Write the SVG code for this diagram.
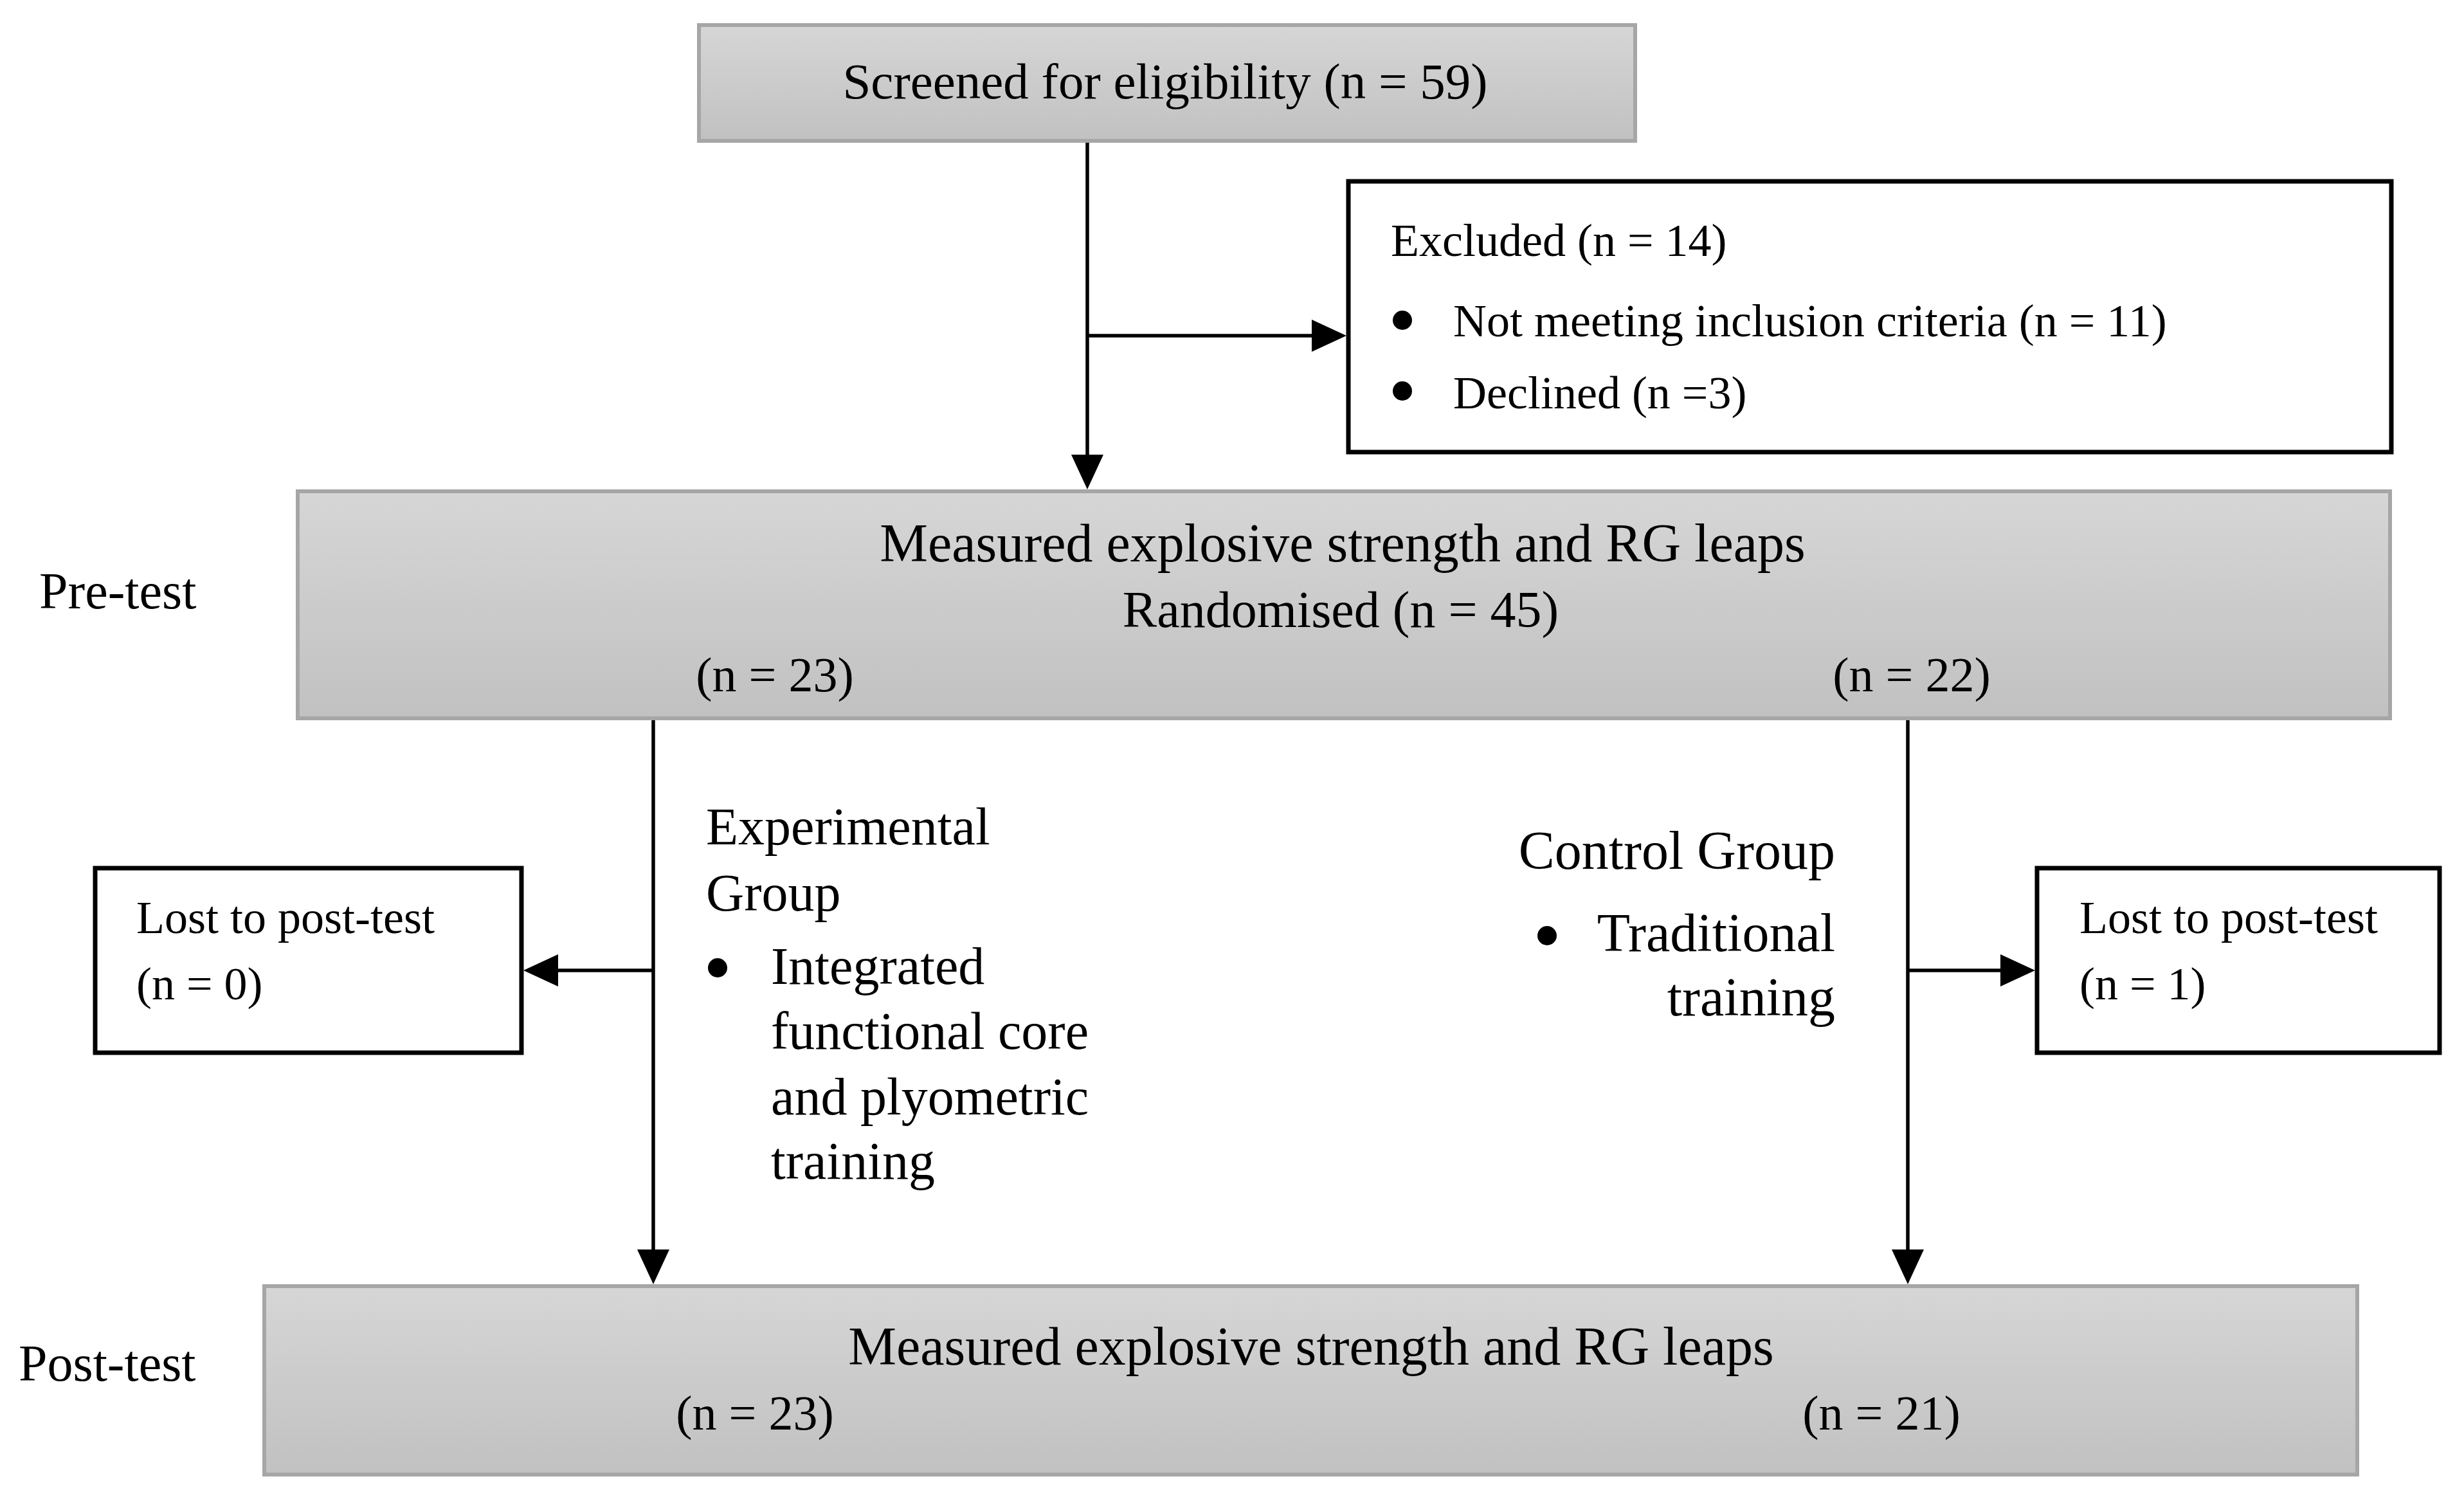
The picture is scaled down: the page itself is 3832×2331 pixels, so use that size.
<svg xmlns="http://www.w3.org/2000/svg" width="3832" height="2331" viewBox="0 0 3832 2331">
<style>
text{font-family:"Liberation Serif","Times New Roman",serif;fill:#000}
.big{font-size:80px}
.grp{font-size:82px}
.ctl{font-size:84px}
.num{font-size:76px}
.meas{font-size:84px}
.sm{font-size:72px}
.gray{fill:url(#g);stroke:#a6a6a6;stroke-width:6}
.white{fill:#fff;stroke:#000;stroke-width:7}
.conn{stroke:#000;stroke-width:5.5;fill:none}
</style>
<defs>
<linearGradient id="g" x1="0" y1="0" x2="0" y2="1">
<stop offset="0" stop-color="#d6d6d6"/>
<stop offset="1" stop-color="#c1c1c1"/>
</linearGradient>
<marker id="arr" markerUnits="userSpaceOnUse" markerWidth="54" markerHeight="50" refX="44" refY="25" orient="auto">
<path d="M0,0 L54,25 L0,50 z" fill="#000"/>
</marker>
</defs>
<rect width="3832" height="2331" fill="#fff"/>

<g id="connectors">
<line class="conn" x1="1691" y1="222" x2="1691" y2="751" marker-end="url(#arr)"/>
<line class="conn" x1="1691" y1="522" x2="2084" y2="522" marker-end="url(#arr)"/>
<line class="conn" x1="1016" y1="1120" x2="1016" y2="1987" marker-end="url(#arr)"/>
<line class="conn" x1="1016" y1="1509" x2="824" y2="1509" marker-end="url(#arr)"/>
<line class="conn" x1="2967" y1="1120" x2="2967" y2="1987" marker-end="url(#arr)"/>
<line class="conn" x1="2967" y1="1509" x2="3155" y2="1509" marker-end="url(#arr)"/>
</g>

<g id="screened">
<rect class="gray" x="1087" y="39" width="1456" height="180"/>
<text class="big" x="1812" y="153" text-anchor="middle" style="font-size:79px">Screened for eligibility (n = 59)</text>
</g>

<g id="excluded">
<rect class="white" x="2097" y="282" width="1622" height="421"/>
<text class="sm" x="2163" y="398">Excluded (n = 14)</text>
<circle cx="2181" cy="498" r="15"/>
<text class="sm" x="2260" y="523">Not meeting inclusion criteria (n = 11)</text>
<circle cx="2181" cy="608" r="15"/>
<text class="sm" x="2260" y="635">Declined (n =3)</text>
</g>

<g id="pretest-label">
<text class="big" x="61" y="946">Pre-test</text>
</g>

<g id="pretest">
<rect class="gray" x="463" y="764" width="3254" height="353"/>
<text class="meas" x="2088" y="873" text-anchor="middle">Measured explosive strength and RG leaps</text>
<text class="big" x="2085" y="975" text-anchor="middle">Randomised (n = 45)</text>
<text class="num" x="1205" y="1075" text-anchor="middle">(n = 23)</text>
<text class="num" x="2973" y="1075" text-anchor="middle">(n = 22)</text>
</g>

<g id="experimental">
<text class="grp" x="1098" y="1313">Experimental</text>
<text class="grp" x="1098" y="1416">Group</text>
<circle cx="1116" cy="1505" r="15"/>
<text class="grp" x="1199" y="1530">Integrated</text>
<text class="grp" x="1199" y="1631">functional core</text>
<text class="grp" x="1199" y="1733">and plyometric</text>
<text class="grp" x="1199" y="1833">training</text>
</g>

<g id="control">
<text class="ctl" x="2854" y="1351" text-anchor="end">Control Group</text>
<circle cx="2406" cy="1455" r="15"/>
<text class="ctl" x="2854" y="1479" text-anchor="end">Traditional</text>
<text class="ctl" x="2854" y="1579" text-anchor="end">training</text>
</g>

<g id="lost-left">
<rect class="white" x="148" y="1350" width="663" height="287"/>
<text class="sm" x="212" y="1451">Lost to post-test</text>
<text class="sm" x="212" y="1554">(n = 0)</text>
</g>

<g id="lost-right">
<rect class="white" x="3168" y="1350" width="626" height="287"/>
<text class="sm" x="3234" y="1451">Lost to post-test</text>
<text class="sm" x="3234" y="1554">(n = 1)</text>
</g>

<g id="posttest-label">
<text class="big" x="29" y="2147">Post-test</text>
</g>

<g id="posttest">
<rect class="gray" x="411" y="2000" width="3255" height="293"/>
<text class="meas" x="2039" y="2122" text-anchor="middle">Measured explosive strength and RG leaps</text>
<text class="num" x="1174" y="2223" text-anchor="middle">(n = 23)</text>
<text class="num" x="2926" y="2223" text-anchor="middle">(n = 21)</text>
</g>
</svg>
